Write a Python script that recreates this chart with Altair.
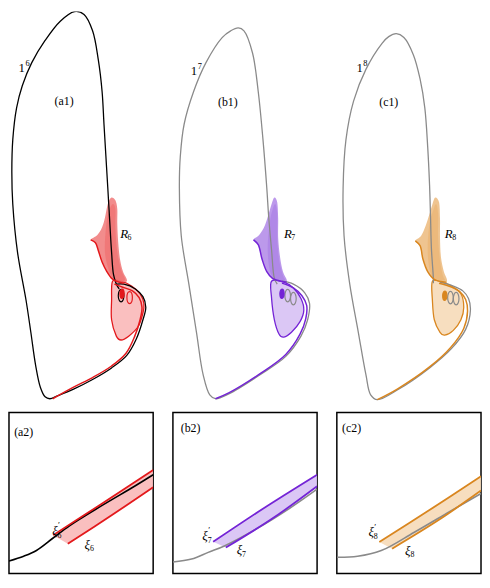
import altair as alt
import pandas as pd

# ---------------- colours ----------------
RED, RED_FAN, RED_LOBE = "#e3191c", "#ef6f6f", "#f9b8b8"
PUR, PUR_FAN, PUR_LOBE = "#7424d6", "#ab80e6", "#d7c1f4"
ORA, ORA_FAN, ORA_LOBE = "#d9861f", "#ebb574", "#f6dab8"
GREY = "#8a8a8a"

# ---------------- panel (a1) ----------------
A1_LOOP = [(115, 288), (112, 283), (109, 273), (107, 250), (105, 217), (103, 183), (101, 150),
           (99, 117), (97, 83), (93, 50), (87, 20), (78, 3), (68, 0), (53, 10), (37, 30),
           (23, 53), (13, 77), (7, 100), (3, 133), (2, 167), (3, 200), (8, 250), (17, 300),
           (22, 333), (27, 367), (32, 390), (37, 400), (42, 402), (50, 399), (67, 392),
           (87, 382), (107, 370), (123, 357), (133, 340), (140, 320), (143, 307), (140, 296),
           (132, 288), (120, 283), (112, 283)]
A1_EDGE = [(45, 402), (67, 390), (87, 380), (107, 368), (122, 355), (131, 338), (137, 320),
           (139, 307), (136, 297), (129, 290), (118, 286), (110, 283)]
A1_FAN = [(107, 193), (111, 196), (113, 205), (113, 220), (114, 240), (116, 258), (119, 270),
          (123, 280), (112, 280), (107, 277), (102, 270), (97, 260), (93, 248), (90, 240),
          (85, 237), (92, 232), (97, 224), (100, 214), (102, 204), (104, 197)]
A1_FAN_CORE = [(108, 200), (111, 205), (111, 225), (113, 250), (117, 268), (121, 279),
               (110, 278), (104, 268), (100, 250), (101, 225), (104, 208)]
A1_FAN_EDGE = [(85, 237), (90, 240), (93, 248), (97, 260), (102, 270), (107, 277), (112, 280),
               (120, 282)]
A1_LOBE = [(108, 280), (107, 300), (107, 320), (112, 337), (117, 341), (125, 337), (135, 327),
           (140, 313), (141, 303), (137, 293), (128, 285), (117, 280)]
A1_RINGS_DARK = [(117, 295)]
A1_RINGS_FILL = [(118, 293)]
A1_RINGS_COL = [(126, 297)]

# ---------------- panel (b1) ----------------
B1_LOOP = [(278, 283), (275, 277), (272, 247), (269, 213), (267, 183), (263, 133), (258, 83),
           (252, 43), (243, 20), (237, 17), (229, 20), (220, 27), (203, 53), (190, 83),
           (180, 117), (176, 150), (175, 183), (177, 233), (185, 283), (193, 333), (200, 377),
           (207, 398), (213, 402), (227, 397), (260, 377), (287, 358), (303, 337), (310, 320),
           (312, 303), (307, 292), (295, 283), (283, 280)]
B1_EDGE = [(213, 402), (227, 396), (260, 376), (287, 356), (302, 335), (308, 319), (309, 305),
           (304, 295), (295, 287), (283, 282)]
B1_FAN = [(275, 193), (278, 198), (279, 215), (279, 235), (281, 255), (284, 270), (288, 280),
          (278, 279), (273, 277), (267, 270), (262, 257), (258, 243), (253, 237), (259, 232),
          (265, 222), (269, 210), (272, 200)]
B1_FAN_CORE = [(276, 200), (278, 210), (278, 235), (280, 258), (284, 274), (286, 279),
               (276, 278), (270, 268), (268, 245), (270, 220), (273, 206)]
B1_FAN_EDGE = [(253, 237), (258, 242), (262, 257), (267, 270), (273, 277), (278, 279),
               (288, 281)]
B1_LOBE = [(272, 280), (272, 297), (275, 320), (280, 335), (285, 338), (293, 333), (302, 322),
           (306, 310), (303, 298), (295, 287), (285, 281)]
B1_RINGS_DARK = [(289, 295), (295, 298)]
B1_RINGS_FILL = [(283, 293)]

# ---------------- panel (c1) ----------------
C1_LOOP = [(441, 282), (441, 277), (439, 247), (438, 213), (437, 180), (435, 140), (432, 100),
           (427, 70), (420, 45), (410, 27), (402, 23), (394, 26), (387, 33), (370, 60),
           (357, 93), (349, 133), (346, 183), (347, 233), (353, 283), (362, 333), (370, 377),
           (375, 398), (382, 403), (403, 393), (437, 370), (460, 350), (475, 330), (480, 310),
           (478, 298), (472, 290), (462, 285), (448, 281)]
C1_EDGE = [(382, 403), (403, 392), (437, 369), (459, 349), (473, 329), (477, 311), (475, 299),
           (469, 291), (460, 286), (447, 282)]
C1_FAN = [(443, 193), (447, 198), (448, 215), (448, 235), (449, 255), (452, 270), (455, 280),
          (442, 278), (435, 270), (430, 257), (427, 244), (422, 238), (428, 233), (433, 222),
          (437, 210), (440, 200)]
C1_FAN_CORE = [(444, 200), (446, 210), (446, 235), (448, 258), (451, 274), (453, 279),
               (443, 278), (437, 268), (435, 245), (437, 220), (441, 206)]
C1_FAN_EDGE = [(422, 238), (427, 243), (430, 257), (435, 270), (442, 278), (455, 281)]
C1_LOBE = [(440, 280), (440, 300), (442, 320), (448, 333), (453, 336), (462, 331), (470, 320),
           (473, 307), (470, 293), (460, 285), (450, 281)]
C1_RINGS_DARK = [(459, 297), (465, 298)]
C1_RINGS_FILL = [(453, 295)]

# ---------------- bottom panels ----------------
A2_CURVE = [(5, 570), (20, 565), (33, 559), (50, 546), (67, 533), (100, 512), (133, 492),
            (152, 480)]
A2_UPPER = [(50, 543), (100, 510), (152, 475)]
A2_LOWER = [(65, 552), (110, 522), (152, 493)]
B2_CURVE = [(174, 573), (193, 570), (210, 563), (227, 556), (260, 538), (293, 517), (321, 497)]
B2_UPPER = [(215, 552), (265, 518), (321, 482)]
B2_LOWER = [(228, 558), (275, 528), (321, 494)]
C2_CURVE = [(342, 569), (363, 568), (387, 562), (420, 543), (453, 523), (488, 502)]
C2_UPPER = [(385, 553), (435, 520), (488, 484)]
C2_LOWER = [(398, 560), (445, 530), (488, 499)]

# ---------------- labels: (base, sup, sub, left x, centre y, italic) ----------------
TOP_LABELS = {
    "a": [("1", "6", "", 9, 59, False), ("R", "", "6", 116, 231, True)],
    "b": [("1", "7", "", 187, 62, False), ("R", "", "7", 285, 231, True)],
    "c": [("1", "8", "", 360, 59, False), ("R", "", "8", 453, 231, True)],
}
PANEL_TAGS = {"a1": (57, 93), "b1": (226, 94), "c1": (394, 94),
              "a2": (20, 435), "b2": (192, 433), "c2": (357, 433)}
BOTTOM_LABELS = {
    "a": [("ξ", "′", "6", 49, 539, True), ("ξ", "", "6", 82, 553, True)],
    "b": [("ξ", "′", "7", 204, 546, True), ("ξ", "", "7", 239, 561, True)],
    "c": [("ξ", "′", "8", 374, 543, True), ("ξ", "", "8", 411, 562, True)],
}
BASE_WIDTH = {"1": 6.5, "R": 7.5, "ξ": 5.5}

ELLIPSE = "M -0.45 0 A 0.45 1 0 1 0 0.45 0 A 0.45 1 0 1 0 -0.45 0 Z"
FONT = "Liberation Serif"


def path(points):
    return pd.DataFrame({"x": [p[0] for p in points], "y": [p[1] for p in points],
                         "i": list(range(len(points)))})


def enc(xdom, ydom):
    return dict(
        x=alt.X("x:Q", scale=alt.Scale(domain=xdom, zero=False, nice=False), axis=None),
        y=alt.Y("y:Q", scale=alt.Scale(domain=ydom, zero=False, nice=False, reverse=True),
                axis=None),
    )


def line(points, xdom, ydom, color, width=1.4, interp="catmull-rom"):
    return alt.Chart(path(points)).mark_line(
        color=color, strokeWidth=width, interpolate=interp, clip=True
    ).encode(order="i:Q", **enc(xdom, ydom))


def poly(points, xdom, ydom, fill, opacity=1.0, stroke=None, interp="cardinal-closed"):
    kw = dict(fill=fill, fillOpacity=opacity, interpolate=interp, clip=True)
    if stroke:
        kw.update(stroke=stroke, strokeWidth=1.3)
    else:
        kw.update(strokeOpacity=0)
    return alt.Chart(path(points)).mark_line(**kw).encode(order="i:Q", **enc(xdom, ydom))


def rings(points, xdom, ydom, color, size, filled=False, width=1.2):
    kw = dict(shape=ELLIPSE, size=size, strokeWidth=width, opacity=1)
    if filled:
        kw.update(filled=True, fill=color, stroke=color)
    else:
        kw.update(filled=False, stroke=color)
    return alt.Chart(path(points)).mark_point(**kw).encode(**enc(xdom, ydom))


def text(txt, x, y, xdom, ydom, size=12, italic=False, align="left", dx=0, dy=0):
    return alt.Chart(pd.DataFrame({"x": [x], "y": [y], "t": [txt]})).mark_text(
        font=FONT, fontSize=size, fontStyle="italic" if italic else "normal",
        align=align, baseline="middle", dx=dx, dy=dy, color="black"
    ).encode(text="t:N", **enc(xdom, ydom))


def labels(items, xdom, ydom):
    out = []
    for base, sup, sub, x, y, it in items:
        w = BASE_WIDTH[base]
        out.append(text(base, x, y, xdom, ydom, 13, it))
        if sup == "′":
            out.append(text(sup, x, y, xdom, ydom, 9, False, dx=w + 0.5, dy=-6))
        elif sup:
            out.append(text(sup, x, y, xdom, ydom, 8.5, False, dx=w + 0.5, dy=-5))
        if sub:
            out.append(text(sub, x, y, xdom, ydom, 8, False, dx=w, dy=4.5))
    return out


def tag(name, xdom, ydom):
    x, y = PANEL_TAGS[name]
    return text("(" + name + ")", x, y, xdom, ydom, 12, False, align="center")


TOP_W, TOP_H = 152, 395
BOT_W, BOT_H = 146, 163
TOP_Y = [0, 405]


def top_panel(name, xdom, loop, loop_col, edge, fan, fan_core, fan_edge, lobe, col, fan_col,
              lobe_col, rdark, rdark_col, rfill, lab, rcol=None):
    layers = [
        poly(lobe, xdom, TOP_Y, lobe_col, 0.9, stroke=col),
        poly(fan, xdom, TOP_Y, fan_col, 0.8),
        poly(fan_core, xdom, TOP_Y, fan_col, 0.7),
        line(loop, xdom, TOP_Y, loop_col, 1.3),
        line(edge, xdom, TOP_Y, col, 1.5),
        line(fan_edge, xdom, TOP_Y, col, 1.5),
        rings(rdark, xdom, TOP_Y, rdark_col, 160),
        rings(rfill, xdom, TOP_Y, col, 90, filled=True),
    ]
    if rcol:
        layers.append(rings(rcol, xdom, TOP_Y, col, 150))
    layers += labels(lab, xdom, TOP_Y)
    layers.append(tag(name, xdom, TOP_Y))
    return alt.layer(*layers).properties(width=TOP_W, height=TOP_H)


def bottom_panel(name, xdom, ydom, curve, curve_col, upper, lower, col, fill, lab):
    band = list(upper) + list(reversed(lower))
    layers = [
        poly(band, xdom, ydom, fill, 0.9, interp="linear-closed"),
        line(curve, xdom, ydom, curve_col, 1.6),
        line(upper, xdom, ydom, col, 1.8),
        line(lower, xdom, ydom, col, 1.8),
    ] + labels(lab, xdom, ydom) + [tag(name, xdom, ydom)]
    return alt.layer(*layers).properties(
        width=BOT_W, height=BOT_H,
        view=alt.ViewBackground(stroke="black", strokeWidth=1.5))


a1 = top_panel("a1", [-1, 157], A1_LOOP, "black", A1_EDGE, A1_FAN, A1_FAN_CORE, A1_FAN_EDGE,
               A1_LOBE, RED, RED_FAN, RED_LOBE, A1_RINGS_DARK, "black", A1_RINGS_FILL,
               TOP_LABELS["a"], rcol=A1_RINGS_COL)
b1 = top_panel("b1", [163, 321], B1_LOOP, GREY, B1_EDGE, B1_FAN, B1_FAN_CORE, B1_FAN_EDGE,
               B1_LOBE, PUR, PUR_FAN, PUR_LOBE, B1_RINGS_DARK, GREY, B1_RINGS_FILL,
               TOP_LABELS["b"])
c1 = top_panel("c1", [329, 487], C1_LOOP, GREY, C1_EDGE, C1_FAN, C1_FAN_CORE, C1_FAN_EDGE,
               C1_LOBE, ORA, ORA_FAN, ORA_LOBE, C1_RINGS_DARK, GREY, C1_RINGS_FILL,
               TOP_LABELS["c"])

a2 = bottom_panel("a2", [5, 152], [415, 583], A2_CURVE, "black", A2_UPPER, A2_LOWER, RED,
                  RED_LOBE, BOTTOM_LABELS["a"])
b2 = bottom_panel("b2", [174, 321], [417, 585], B2_CURVE, GREY, B2_UPPER, B2_LOWER, PUR,
                  PUR_LOBE, BOTTOM_LABELS["b"])
c2 = bottom_panel("c2", [342, 488], [417, 586], C2_CURVE, GREY, C2_UPPER, C2_LOWER, ORA,
                  ORA_LOBE, BOTTOM_LABELS["c"])

top = alt.hconcat(a1, b1, c1, spacing=9)
bottom = alt.hconcat(a2, b2, c2, spacing=18)
chart = alt.vconcat(top, bottom, spacing=10).properties(padding=0).configure_view(stroke=None)

chart.save("out.html", embed_options={"renderer": "svg", "actions": False})
